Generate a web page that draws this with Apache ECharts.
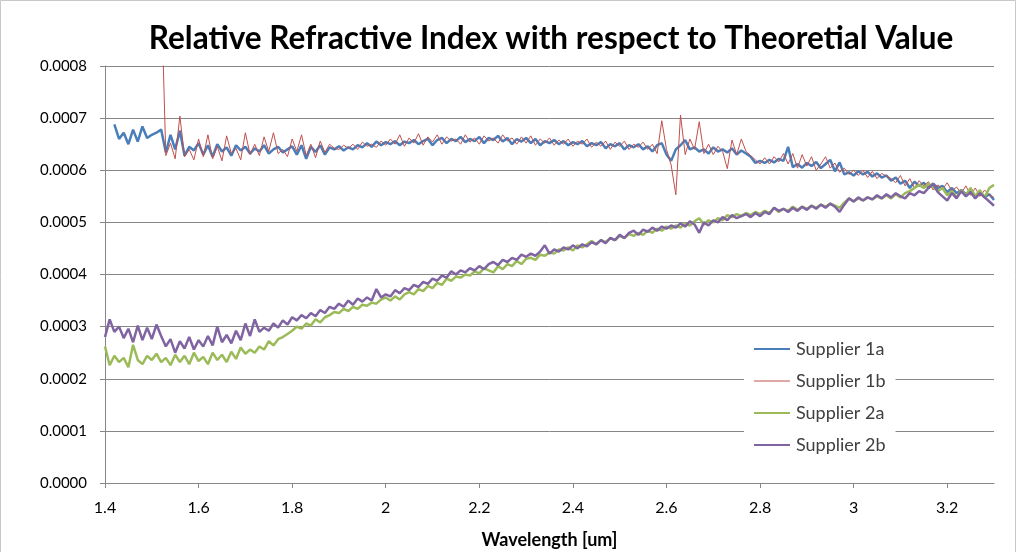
<!DOCTYPE html>
<html>
<head>
<meta charset="utf-8">
<script src="https://cdn.jsdelivr.net/npm/echarts@6/dist/echarts.min.js"></script>
<style>
html,body{margin:0;padding:0;background:#fff;}
#chart{width:1021px;height:552px;}
</style>
</head>
<body>
<div id="chart"></div>
<script>
// Wavelength sampling grid [um]
const WL_START = 1.40;
const WL_STEP = 0.01;
const WL_COUNT = 191; // 1.40 .. 3.30

// Values in units of 1e-6
const supplier1a = [
null,null,688,660,672,650,678,655,684,662,
668,672,678,634,668,640,676,628,645,638,
652,630,648,626,650,636,644,628,648,638,
645,632,642,636,648,632,640,645,634,640,
646,630,648,622,645,635,648,630,644,640,
646,638,644,640,648,644,652,645,655,648,
654,650,656,648,655,652,658,650,656,660,
648,658,662,652,660,656,664,654,660,656,
664,652,662,658,666,655,662,650,660,655,
662,652,660,648,656,652,658,650,656,648,
654,650,656,646,652,648,654,642,650,646,
652,640,648,644,650,640,646,636,648,652,
630,618,640,648,658,640,644,636,640,632,
644,636,640,634,642,630,638,632,626,614,
618,614,620,615,622,618,645,606,612,605,
614,608,616,604,612,620,598,615,592,596,
590,598,592,597,588,594,586,590,580,586,
574,580,566,578,570,576,566,574,566,570,
558,566,556,562,554,560,550,558,548,554,
543
];
const supplier1b = [
null,null,null,null,null,null,null,null,null,null,
null,null,950,628,652,622,704,626,640,620,
660,626,668,622,646,618,666,632,642,620,
672,630,650,628,664,636,672,632,640,626,
660,636,668,628,650,624,656,634,650,642,
640,648,642,650,640,654,646,650,644,656,
648,660,650,668,646,662,652,670,648,664,
654,668,650,664,656,660,650,668,654,662,
650,666,656,662,652,668,656,662,650,664,
652,666,648,660,652,662,648,658,650,660,
646,656,650,660,644,654,646,656,640,654,
646,656,640,650,644,654,640,650,632,695,
640,610,553,706,630,660,640,693,632,650,
630,646,636,603,658,630,660,636,628,620,
612,624,612,626,616,632,612,632,604,630,
608,626,600,612,626,604,614,596,604,592,
600,590,600,586,598,584,594,588,584,576,
590,570,584,566,580,570,578,562,572,564,
576,560,568,556,570,552,566,550,562,552,
548
];
const supplier2a = [
262,226,244,232,240,222,265,236,228,244,
236,248,232,240,226,246,232,244,228,250,
234,242,228,250,236,246,232,252,238,260,
248,256,250,262,256,272,264,276,280,286,
292,300,296,306,302,314,308,318,322,328,
326,334,330,338,334,342,340,346,344,352,
356,350,358,352,362,366,362,372,368,378,
374,384,380,392,388,396,394,400,398,406,
402,412,408,404,416,410,420,416,426,420,
430,432,428,438,436,442,440,448,446,452,
446,456,452,458,464,458,466,462,470,466,
474,470,478,474,480,476,484,480,488,484,
492,488,494,490,498,494,502,508,496,504,
500,508,504,514,510,516,512,518,514,520,
516,522,518,528,520,526,522,530,524,530,
526,532,528,534,530,536,532,528,538,546,
540,546,542,548,544,550,546,552,546,554,
548,556,560,566,572,566,574,568,560,566,
552,560,548,562,552,566,550,562,548,566,
572
];
const supplier2b = [
280,314,290,300,278,296,270,302,274,298,
276,304,282,262,276,250,272,258,280,256,
274,262,282,264,300,270,284,268,292,274,
306,282,314,290,298,292,306,298,312,304,
318,312,322,316,326,320,332,326,338,334,
344,338,350,342,354,348,356,350,372,356,
362,358,370,364,374,370,380,376,386,382,
392,388,398,394,406,400,408,404,412,408,
416,410,420,424,418,428,424,432,428,438,
434,440,436,444,456,440,448,444,452,448,
456,450,458,454,462,458,466,460,470,466,
476,470,480,484,476,486,482,490,484,492,
488,494,490,498,492,502,496,480,500,494,
504,500,510,504,514,508,512,516,510,518,
512,520,516,528,522,526,520,528,522,530,
524,532,526,534,528,536,530,520,534,546,
540,548,542,548,544,552,546,554,548,556,
550,546,556,552,560,556,566,574,558,550,
542,556,546,560,550,558,546,556,548,540,
532
];

const seriesNames = ['Supplier 1a','Supplier 1b','Supplier 2a','Supplier 2b'];
const seriesColors = ['#4A7EBB','#C0504D','#9BBB59','#8064A2'];
const seriesWidths = [2.5,1,2.5,2.5];
const seriesValues = [supplier1a, supplier1b, supplier2a, supplier2b];
const yTickLabels = ['0.0000','0.0001','0.0002','0.0003','0.0004','0.0005','0.0006','0.0007','0.0008'];

const ICON_THICK = 'path://M0,0L0,0M0,1H36V3H0ZM0,4L0,4';
const ICON_THIN = 'path://M0,0L0,0M0,1.5H36V2.5H0ZM0,4L0,4';

function toPairs(arr){
  const out = [];
  for (let i = 0; i < WL_COUNT; i++) {
    const x = +(WL_START + i * WL_STEP).toFixed(2);
    out.push([x, arr[i] == null ? null : arr[i] * 1e-6]);
  }
  return out;
}

const FONT = 'Lato';
const chart = echarts.init(document.getElementById('chart'), null, {renderer:'canvas'});
chart.setOption({
  animation:false,
  backgroundColor:'#fff',
  title:{
    text:'Relative Refractive Index with respect to Theoretial Value',
    left:546, top:18, textAlign:'center',
    textStyle:{fontFamily:FONT, fontWeight:'bold', fontSize:31.5, color:'#000'}
  },
  graphic:[{
    type:'rect', shape:{x:0.5,y:0.5,width:1015,height:560},
    style:{fill:'none', stroke:'#c8c8c8', lineWidth:1}, silent:true, z:-1
  }],
  grid:{left:105, right:27, top:66, bottom:69, outerBoundsMode:'none', containLabel:false},
  legend:{
    orient:'vertical', left:744, top:334,
    itemWidth:36, itemHeight:4, itemGap:14,
    backgroundColor:'#fff', padding:[6,10,6,10],
    textStyle:{fontFamily:FONT, fontSize:18, color:'#404040', padding:[0,0,0,1]},
    data:seriesNames.map(function(n, k){
      return {name:n, icon:(seriesWidths[k] < 2 ? ICON_THIN : ICON_THICK), itemStyle:{color:seriesColors[k]}};
    })
  },
  xAxis:{
    type:'value', min:1.4, max:3.3, interval:0.2,
    name:'Wavelength [um]', nameLocation:'middle', nameGap:48,
    nameTextStyle:{fontFamily:FONT, fontWeight:'bold', fontSize:18, color:'#000'},
    axisLine:{show:true, onZero:false, lineStyle:{color:'#868686', width:1}},
    axisTick:{show:true, inside:false, length:5, lineStyle:{color:'#868686'}},
    axisLabel:{fontFamily:FONT, fontSize:16, color:'#000', margin:17, showMaxLabel:false},
    splitLine:{show:false}
  },
  yAxis:{
    type:'value', min:0, max:0.0008, interval:0.0001,
    axisLine:{show:true, lineStyle:{color:'#868686', width:1}},
    axisTick:{show:true, inside:false, length:5, lineStyle:{color:'#868686'}},
    axisLabel:{fontFamily:FONT, fontSize:15, color:'#000', margin:18,
      formatter:function(v){ const i = Math.round(v/0.0001); return yTickLabels[i] != null ? yTickLabels[i] : ''; }},
    splitLine:{show:true, lineStyle:{color:'#868686', width:1}}
  },
  series: seriesNames.map(function(name, k){
    return {
      name:name, type:'line', data:toPairs(seriesValues[k]),
      showSymbol:false, symbol:'none', connectNulls:false, clip:true,
      lineStyle:{color:seriesColors[k], width:seriesWidths[k]},
      itemStyle:{color:seriesColors[k]},
      z:2+k
    };
  })
});
</script>
</body>
</html>
